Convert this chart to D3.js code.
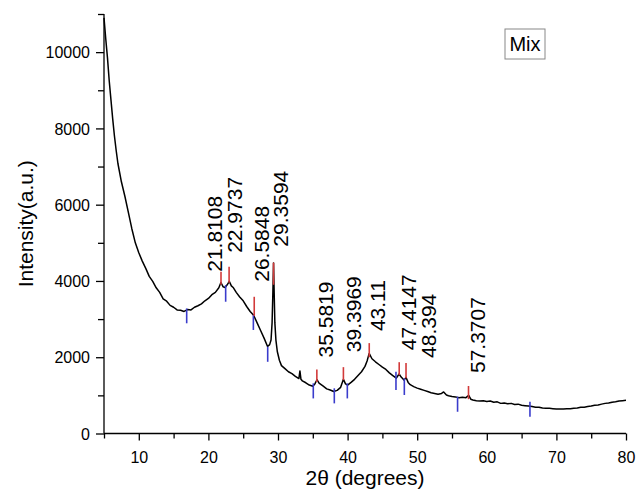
<!DOCTYPE html>
<html>
<head>
<script src="https://cdnjs.cloudflare.com/ajax/libs/d3/7.8.5/d3.min.js" type="text/javascript"></script>
<style>
body { margin: 0; background: #fff; }
text { font-family: Arial, "Liberation Sans", sans-serif; }
</style>
</head>
<body>
<div id="chart"></div>
<script type="text/javascript">
// XRD pattern
var twoTheta = [5.0, 5.25, 5.5, 5.75, 6.0, 6.25, 6.5, 6.75, 7.0, 7.5, 8.0, 8.5, 9.0, 9.5, 10.0, 10.5, 11.0, 11.5, 12.0, 12.5,
	13.0, 13.5, 14.0, 14.5, 15.0, 15.5, 16.0, 16.5, 17.0, 17.5, 18.0, 18.5, 19.0, 19.5, 20.0, 20.5, 21.0, 21.5, 21.8, 22.1,
	22.4, 22.7, 23.0, 23.3, 23.6, 24.0, 24.5, 25.0, 25.5, 26.0, 26.5, 27.0, 27.5, 28.0, 28.5, 28.8, 29.0, 29.15, 29.25, 29.36,
	29.45, 29.55, 29.7, 29.9, 30.2, 30.5, 31.0, 31.5, 32.0, 32.5, 33.0, 33.15, 33.3, 33.5, 34.0, 34.5, 35.0, 35.3, 35.6, 35.9,
	36.5, 37.0, 37.5, 38.0, 38.5, 39.0, 39.4, 39.7, 40.0, 40.5, 41.0, 41.5, 42.0, 42.5, 42.8, 43.1, 43.5, 44.0, 44.5, 45.0,
	45.5, 46.0, 46.5, 47.0, 47.4, 47.7, 48.1, 48.4, 48.7, 49.0, 49.5, 50.0, 50.5, 51.0, 51.5, 52.0, 52.5, 53.0, 53.5, 53.8,
	54.2, 54.5, 55.0, 55.5, 56.0, 56.5, 57.0, 57.4, 57.7, 58.0, 58.5, 59.0, 59.5, 60.0, 60.5, 61.0, 61.5, 62.0, 62.5, 63.0,
	63.5, 64.0, 64.5, 65.0, 65.5, 66.0, 66.5, 67.0, 67.5, 68.0, 68.5, 69.0, 69.5, 70.0, 70.5, 71.0, 71.5, 72.0, 72.5, 73.0,
	73.5, 74.0, 74.5, 75.0, 75.5, 76.0, 76.5, 77.0, 77.5, 78.0, 78.5, 79.0, 79.5, 80.0];
var intensity = [10900, 10350, 9850, 9250, 8750, 8250, 7800, 7420, 7080, 6600, 6220, 5800, 5370, 5000, 4740, 4520, 4330, 4120, 3990, 3820,
	3700, 3530, 3470, 3360, 3310, 3240, 3230, 3200, 3250, 3240, 3310, 3350, 3400, 3480, 3540, 3640, 3700, 3820, 3960, 3850,
	3830, 3900, 3990, 3870, 3820, 3700, 3580, 3480, 3330, 3200, 3100, 2900, 2700, 2500, 2280, 2330, 2450, 2900, 3600, 4470,
	3700, 2900, 2450, 2150, 1920, 1780, 1700, 1620, 1570, 1500, 1440, 1640, 1420, 1380, 1330, 1270, 1240, 1300, 1410, 1320,
	1240, 1170, 1140, 1100, 1130, 1210, 1420, 1300, 1270, 1340, 1420, 1520, 1620, 1760, 1900, 2100, 1960, 1880, 1810, 1740,
	1680, 1590, 1520, 1450, 1560, 1480, 1400, 1470, 1340, 1280, 1230, 1190, 1160, 1130, 1100, 1070, 1050, 1030, 1050, 1090,
	1010, 990, 970, 960, 940, 950, 940, 1000, 900, 880, 860, 850, 860, 840, 850, 820, 830, 790, 800, 780,
	790, 760, 770, 740, 730, 720, 710, 690, 690, 670, 665, 660, 650, 640, 645, 640, 650, 650, 665, 670,
	690, 690, 710, 720, 740, 750, 770, 790, 800, 820, 830, 850, 860, 870];

// labelled peaks (red marks): position, mark bottom, mark top
var peakPos = [21.8108, 22.9737, 26.5848, 29.3594, 35.5819, 39.3969, 43.11, 47.4147, 48.394, 57.3707];
var peakLow = [3900, 3950, 3080, 3900, 1350, 1400, 2000, 1530, 1450, 900];
var peakHigh = [4240, 4370, 3585, 4480, 1680, 1740, 2370, 1870, 1850, 1245];
var peakText = ["21.8108", "22.9737", "26.5848", "29.3594", "35.5819", "39.3969", "43.11", "47.4147", "48.394", "57.3707"];

// background points (blue marks): position, mark top, mark bottom
var basePos = [16.88, 22.48, 26.46, 28.52, 35.07, 38.09, 39.96, 46.95, 48.15, 55.8, 66.2];
var baseHigh = [3280, 3890, 3105, 2275, 1315, 1185, 1315, 1620, 1445, 965, 835];
var baseLow = [2890, 3455, 2715, 1880, 920, 790, 920, 1140, 1010, 570, 440];

var xTicks = [10, 20, 30, 40, 50, 60, 70, 80];
var yTicks = [0, 2000, 4000, 6000, 8000, 10000];
var legendText = "Mix";

var width = 636, height = 501;
var margin = {"top": 14, "left": 104, "right": 10, "bottom": 67.5};

// where Origin put each peak label relative to the top of its mark (px)
var labelDx = [1, 13, 15, 14, 16, 18, 15.5, 17, 30, 16.5];
var labelDy = [0, -14, -15, -16, -12, -15, -12, -12, -5, -13];

var svg = d3.select("#chart")
	.append("svg")
		.attr("width", width)
		.attr("height", height);
svg.append("rect")
	.attr("width", width)
	.attr("height", height)
	.attr("fill", "#fff");

var x = d3.scaleLinear()
	.domain([5, 80])
	.range([margin.left, width - margin.right]);
var y = d3.scaleLinear()
	.domain([0, 11000])
	.range([height - margin.bottom, margin.top]);

// axes: major and minor ticks pointing out
var xAxis = svg.append("g")
	.attr("transform", "translate(0," + y(0) + ")");
xAxis.call(d3.axisBottom(x).tickValues(d3.range(5, 81, 5)).tickSize(5).tickFormat(""));
xAxis.selectAll(".tick").filter(function(d) { return xTicks.indexOf(d) >= 0; })
	.select("line").attr("y2", 7);
xAxis.selectAll(".tick").filter(function(d) { return xTicks.indexOf(d) >= 0; })
	.append("text")
		.attr("y", 29)
		.attr("fill", "#000")
		.style("font-size", "16px")
		.style("text-anchor", "middle")
		.text(function(d) { return d; });

var yAxis = svg.append("g")
	.attr("transform", "translate(" + x(5) + ",0)");
yAxis.call(d3.axisLeft(y).tickValues(d3.range(0, 11001, 1000)).tickSize(6).tickFormat(""));
yAxis.selectAll(".tick").filter(function(d) { return yTicks.indexOf(d) >= 0; })
	.select("line").attr("x2", -8);
yAxis.selectAll(".tick").filter(function(d) { return yTicks.indexOf(d) >= 0; })
	.append("text")
		.attr("x", -14)
		.attr("dy", "0.36em")
		.attr("fill", "#000")
		.style("font-size", "16px")
		.style("text-anchor", "end")
		.text(function(d) { return d; });

svg.selectAll(".domain, .tick line")
	.attr("stroke", "#000")
	.attr("stroke-width", 1.3);
// plain axis lines, no end caps
xAxis.select(".domain").attr("d", "M" + x(5) + ",0H" + x(80));
yAxis.select(".domain").attr("d", "M0," + y(0) + "V" + y(11000));

// axis titles
svg.append("text")
	.attr("x", (x(5) + x(80)) / 2)
	.attr("y", 485)
	.style("font-size", "21px")
	.style("text-anchor", "middle")
	.text("2\u03b8 (degrees)");
svg.append("text")
	.attr("transform", "translate(33," + (y(0) + y(11000)) / 2 + ") rotate(-90)")
	.style("font-size", "21px")
	.style("text-anchor", "middle")
	.text("Intensity(a.u.)");

// pattern
var line = d3.line()
	.x(function(d, i) { return x(twoTheta[i]); })
	.y(function(d) { return y(d); });
svg.append("path")
	.datum(intensity)
	.attr("fill", "none")
	.attr("stroke", "#000")
	.attr("stroke-width", 1.5)
	.attr("stroke-linejoin", "round")
	.attr("d", line);

// blue background marks
svg.selectAll(".base")
	.data(basePos)
	.enter()
	.append("line")
		.attr("class", "base")
		.attr("x1", function(d) { return x(d); })
		.attr("x2", function(d) { return x(d); })
		.attr("y1", function(d, i) { return y(baseHigh[i]); })
		.attr("y2", function(d, i) { return y(baseLow[i]); })
		.attr("stroke", "#3a3ccc")
		.attr("stroke-width", 1.6);

// red peak marks and labels
svg.selectAll(".peak")
	.data(peakPos)
	.enter()
	.append("line")
		.attr("class", "peak")
		.attr("x1", function(d) { return x(d); })
		.attr("x2", function(d) { return x(d); })
		.attr("y1", function(d, i) { return y(peakLow[i]); })
		.attr("y2", function(d, i) { return y(peakHigh[i]); })
		.attr("stroke", "#d23a3a")
		.attr("stroke-width", 1.6);
svg.selectAll(".peak-label")
	.data(peakPos)
	.enter()
	.append("text")
		.attr("class", "peak-label")
		.attr("transform", function(d, i) {
			return "translate(" + (x(d) + labelDx[i]) + "," + (y(peakHigh[i]) + labelDy[i]) + ") rotate(-90)";
		})
		.style("font-size", "21px")
		.style("text-anchor", "start")
		.text(function(d, i) { return peakText[i]; });

// legend box
svg.append("rect")
	.attr("x", 505)
	.attr("y", 29)
	.attr("width", 40)
	.attr("height", 30)
	.attr("fill", "#fff")
	.attr("stroke", "#888")
	.attr("stroke-width", 1);
svg.append("text")
	.attr("x", 525)
	.attr("y", 51)
	.style("font-size", "20px")
	.style("text-anchor", "middle")
	.text(legendText);
</script>
</body>
</html>
